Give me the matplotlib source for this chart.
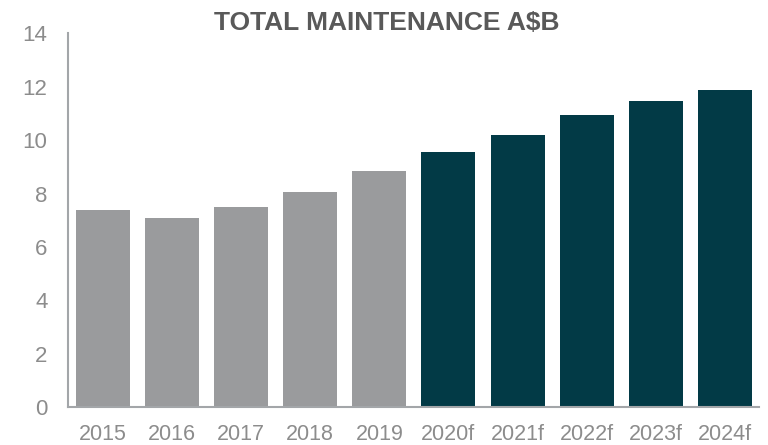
import numpy as np
import matplotlib.pyplot as plt

plt.rcParams['font.family'] = ['Liberation Sans', 'DejaVu Sans']

years = ["2015", "2016", "2017", "2018", "2019", "2020f", "2021f", "2022f", "2023f", "2024f"]
values = [7.39, 7.09, 7.51, 8.07, 8.86, 9.56, 10.19, 10.94, 11.47, 11.88]
forecast = [False, False, False, False, False, True, True, True, True, True]

grey = "#9a9b9d"
teal = "#023a46"
colors = [teal if f else grey for f in forecast]

fig = plt.figure(figsize=(7.68, 4.45), dpi=100)
ax = fig.add_axes([0.0889, 0.0847, 0.9, 0.8405])

x = np.arange(len(years))
ax.bar(x, values, width=0.78, color=colors)

ax.set_xlim(-0.5, len(years) - 0.5)
ax.set_ylim(0, 14)
ax.set_yticks(range(0, 15, 2))
ax.set_xticks(x)
ax.set_xticklabels(years)

for s in ["top", "right"]:
    ax.spines[s].set_visible(False)
for s in ["left", "bottom"]:
    ax.spines[s].set_color("#a3a6a9")
    ax.spines[s].set_linewidth(1.5)

ax.tick_params(axis="both", length=0, labelsize=15.5, colors="#8c8c8c")
ax.tick_params(axis="y", pad=15, labelsize=16)
ax.tick_params(axis="x", pad=12)

fig.text(0.503, 0.949, "TOTAL MAINTENANCE A$B", ha="center", va="center",
         fontsize=19, fontweight="bold", color="#595959")

fig.savefig("out.png", dpi=100)
